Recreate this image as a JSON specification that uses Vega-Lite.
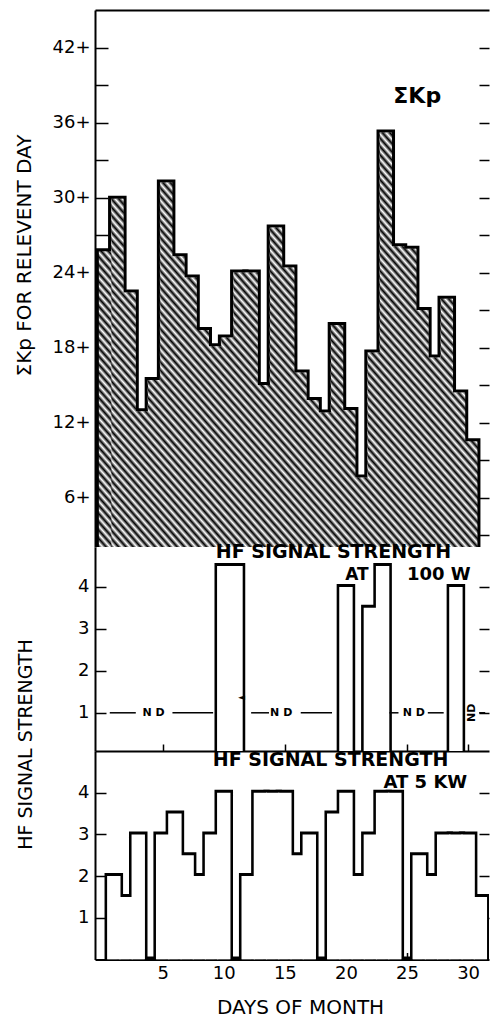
{
  "$schema": "https://vega.github.io/schema/vega-lite/v6.json",
  "background": "white",
  "autosize": {"type": "pad"},
  "padding": {"left": 14, "top": 10, "right": 0, "bottom": 0},
  "spacing": 0,
  "bounds": "flush",
  "config": {
    "view": {"stroke": null},
    "font": "DejaVu Sans",
    "axis": {"domainColor": "black", "tickColor": "black", "labelColor": "black", "titleColor": "black", "domainWidth": 2, "tickWidth": 1.5, "grid": false, "labelFont": "DejaVu Sans", "titleFont": "DejaVu Sans", "titleFontWeight": "normal"},
    "area": {"opacity": 1, "fill": {"gradient": "linear", "x1": 0, "y1": 1, "x2": 1, "y2": 0, "stops": [
      {"offset":0,"color":"#000"},{"offset":0.005,"color":"#fff"},{"offset":0.01,"color":"#000"},{"offset":0.015,"color":"#fff"},{"offset":0.02,"color":"#000"},{"offset":0.025,"color":"#fff"},{"offset":0.03,"color":"#000"},{"offset":0.035,"color":"#fff"},{"offset":0.04,"color":"#000"},{"offset":0.045,"color":"#fff"},
      {"offset":0.05,"color":"#000"},{"offset":0.055,"color":"#fff"},{"offset":0.06,"color":"#000"},{"offset":0.065,"color":"#fff"},{"offset":0.07,"color":"#000"},{"offset":0.075,"color":"#fff"},{"offset":0.08,"color":"#000"},{"offset":0.085,"color":"#fff"},{"offset":0.09,"color":"#000"},{"offset":0.095,"color":"#fff"},
      {"offset":0.1,"color":"#000"},{"offset":0.105,"color":"#fff"},{"offset":0.11,"color":"#000"},{"offset":0.115,"color":"#fff"},{"offset":0.12,"color":"#000"},{"offset":0.125,"color":"#fff"},{"offset":0.13,"color":"#000"},{"offset":0.135,"color":"#fff"},{"offset":0.14,"color":"#000"},{"offset":0.145,"color":"#fff"},
      {"offset":0.15,"color":"#000"},{"offset":0.155,"color":"#fff"},{"offset":0.16,"color":"#000"},{"offset":0.165,"color":"#fff"},{"offset":0.17,"color":"#000"},{"offset":0.175,"color":"#fff"},{"offset":0.18,"color":"#000"},{"offset":0.185,"color":"#fff"},{"offset":0.19,"color":"#000"},{"offset":0.195,"color":"#fff"},
      {"offset":0.2,"color":"#000"},{"offset":0.205,"color":"#fff"},{"offset":0.21,"color":"#000"},{"offset":0.215,"color":"#fff"},{"offset":0.22,"color":"#000"},{"offset":0.225,"color":"#fff"},{"offset":0.23,"color":"#000"},{"offset":0.235,"color":"#fff"},{"offset":0.24,"color":"#000"},{"offset":0.245,"color":"#fff"},
      {"offset":0.25,"color":"#000"},{"offset":0.255,"color":"#fff"},{"offset":0.26,"color":"#000"},{"offset":0.265,"color":"#fff"},{"offset":0.27,"color":"#000"},{"offset":0.275,"color":"#fff"},{"offset":0.28,"color":"#000"},{"offset":0.285,"color":"#fff"},{"offset":0.29,"color":"#000"},{"offset":0.295,"color":"#fff"},
      {"offset":0.3,"color":"#000"},{"offset":0.305,"color":"#fff"},{"offset":0.31,"color":"#000"},{"offset":0.315,"color":"#fff"},{"offset":0.32,"color":"#000"},{"offset":0.325,"color":"#fff"},{"offset":0.33,"color":"#000"},{"offset":0.335,"color":"#fff"},{"offset":0.34,"color":"#000"},{"offset":0.345,"color":"#fff"},
      {"offset":0.35,"color":"#000"},{"offset":0.355,"color":"#fff"},{"offset":0.36,"color":"#000"},{"offset":0.365,"color":"#fff"},{"offset":0.37,"color":"#000"},{"offset":0.375,"color":"#fff"},{"offset":0.38,"color":"#000"},{"offset":0.385,"color":"#fff"},{"offset":0.39,"color":"#000"},{"offset":0.395,"color":"#fff"},
      {"offset":0.4,"color":"#000"},{"offset":0.405,"color":"#fff"},{"offset":0.41,"color":"#000"},{"offset":0.415,"color":"#fff"},{"offset":0.42,"color":"#000"},{"offset":0.425,"color":"#fff"},{"offset":0.43,"color":"#000"},{"offset":0.435,"color":"#fff"},{"offset":0.44,"color":"#000"},{"offset":0.445,"color":"#fff"},
      {"offset":0.45,"color":"#000"},{"offset":0.455,"color":"#fff"},{"offset":0.46,"color":"#000"},{"offset":0.465,"color":"#fff"},{"offset":0.47,"color":"#000"},{"offset":0.475,"color":"#fff"},{"offset":0.48,"color":"#000"},{"offset":0.485,"color":"#fff"},{"offset":0.49,"color":"#000"},{"offset":0.495,"color":"#fff"},
      {"offset":0.5,"color":"#000"},{"offset":0.505,"color":"#fff"},{"offset":0.51,"color":"#000"},{"offset":0.515,"color":"#fff"},{"offset":0.52,"color":"#000"},{"offset":0.525,"color":"#fff"},{"offset":0.53,"color":"#000"},{"offset":0.535,"color":"#fff"},{"offset":0.54,"color":"#000"},{"offset":0.545,"color":"#fff"},
      {"offset":0.55,"color":"#000"},{"offset":0.555,"color":"#fff"},{"offset":0.56,"color":"#000"},{"offset":0.565,"color":"#fff"},{"offset":0.57,"color":"#000"},{"offset":0.575,"color":"#fff"},{"offset":0.58,"color":"#000"},{"offset":0.585,"color":"#fff"},{"offset":0.59,"color":"#000"},{"offset":0.595,"color":"#fff"},
      {"offset":0.6,"color":"#000"},{"offset":0.605,"color":"#fff"},{"offset":0.61,"color":"#000"},{"offset":0.615,"color":"#fff"},{"offset":0.62,"color":"#000"},{"offset":0.625,"color":"#fff"},{"offset":0.63,"color":"#000"},{"offset":0.635,"color":"#fff"},{"offset":0.64,"color":"#000"},{"offset":0.645,"color":"#fff"},
      {"offset":0.65,"color":"#000"},{"offset":0.655,"color":"#fff"},{"offset":0.66,"color":"#000"},{"offset":0.665,"color":"#fff"},{"offset":0.67,"color":"#000"},{"offset":0.675,"color":"#fff"},{"offset":0.68,"color":"#000"},{"offset":0.685,"color":"#fff"},{"offset":0.69,"color":"#000"},{"offset":0.695,"color":"#fff"},
      {"offset":0.7,"color":"#000"},{"offset":0.705,"color":"#fff"},{"offset":0.71,"color":"#000"},{"offset":0.715,"color":"#fff"},{"offset":0.72,"color":"#000"},{"offset":0.725,"color":"#fff"},{"offset":0.73,"color":"#000"},{"offset":0.735,"color":"#fff"},{"offset":0.74,"color":"#000"},{"offset":0.745,"color":"#fff"},
      {"offset":0.75,"color":"#000"},{"offset":0.755,"color":"#fff"},{"offset":0.76,"color":"#000"},{"offset":0.765,"color":"#fff"},{"offset":0.77,"color":"#000"},{"offset":0.775,"color":"#fff"},{"offset":0.78,"color":"#000"},{"offset":0.785,"color":"#fff"},{"offset":0.79,"color":"#000"},{"offset":0.795,"color":"#fff"},
      {"offset":0.8,"color":"#000"},{"offset":0.805,"color":"#fff"},{"offset":0.81,"color":"#000"},{"offset":0.815,"color":"#fff"},{"offset":0.82,"color":"#000"},{"offset":0.825,"color":"#fff"},{"offset":0.83,"color":"#000"},{"offset":0.835,"color":"#fff"},{"offset":0.84,"color":"#000"},{"offset":0.845,"color":"#fff"},
      {"offset":0.85,"color":"#000"},{"offset":0.855,"color":"#fff"},{"offset":0.86,"color":"#000"},{"offset":0.865,"color":"#fff"},{"offset":0.87,"color":"#000"},{"offset":0.875,"color":"#fff"},{"offset":0.88,"color":"#000"},{"offset":0.885,"color":"#fff"},{"offset":0.89,"color":"#000"},{"offset":0.895,"color":"#fff"},
      {"offset":0.9,"color":"#000"},{"offset":0.905,"color":"#fff"},{"offset":0.91,"color":"#000"},{"offset":0.915,"color":"#fff"},{"offset":0.92,"color":"#000"},{"offset":0.925,"color":"#fff"},{"offset":0.93,"color":"#000"},{"offset":0.935,"color":"#fff"},{"offset":0.94,"color":"#000"},{"offset":0.945,"color":"#fff"},
      {"offset":0.95,"color":"#000"},{"offset":0.955,"color":"#fff"},{"offset":0.96,"color":"#000"},{"offset":0.965,"color":"#fff"},{"offset":0.97,"color":"#000"},{"offset":0.975,"color":"#fff"},{"offset":0.98,"color":"#000"},{"offset":0.985,"color":"#fff"},{"offset":0.99,"color":"#000"},{"offset":0.995,"color":"#fff"},
      {"offset":1,"color":"#000"}
    ]}}
  },
  "datasets": {
    "kp": [{"day":1,"kp":25.7},{"day":2,"kp":29.9},{"day":3,"kp":22.4},{"day":4,"kp":12.9},{"day":5,"kp":15.4},{"day":6,"kp":31.2},{"day":7,"kp":25.3},{"day":8,"kp":23.6},{"day":9,"kp":19.4},{"day":10,"kp":18.1},{"day":11,"kp":18.8},{"day":12,"kp":24.0},{"day":13,"kp":24.0},{"day":14,"kp":15.0},{"day":15,"kp":27.6},{"day":16,"kp":24.4},{"day":17,"kp":16.0},{"day":18,"kp":13.8},{"day":19,"kp":12.8},{"day":20,"kp":19.8},{"day":21,"kp":13.0},{"day":22,"kp":7.6},{"day":23,"kp":17.6},{"day":24,"kp":35.2},{"day":25,"kp":26.1},{"day":26,"kp":25.9},{"day":27,"kp":21.0},{"day":28,"kp":17.2},{"day":29,"kp":21.9},{"day":30,"kp":14.4},{"day":31,"kp":10.5}],
    "w100": [{"day":10,"s":4.5},{"day":11,"s":4.5},{"day":20,"s":4},{"day":21,"s":0},{"day":22,"s":3.5},{"day":23,"s":4.5},{"day":29,"s":4}],
    "nd": [{"from":0.67,"to":2.8},{"from":5.8,"to":9.13},{"from":12.24,"to":13.7},{"from":16.3,"to":18.86},{"from":23.56,"to":24.3},{"from":26.7,"to":28.0},{"from":30.9,"to":31.4}],
    "ndlabels": [{"day":4.26,"label":"N D"},{"day":14.7,"label":"N D"},{"day":25.55,"label":"N D"}],
    "ndvert": [{"day":30.3,"label":"ND"}],
    "kw5": [{"day":1,"s":2},{"day":2,"s":1.5},{"day":3,"s":3},{"day":4,"s":0},{"day":5,"s":3},{"day":6,"s":3.5},{"day":7,"s":2.5},{"day":8,"s":2},{"day":9,"s":3},{"day":10,"s":4},{"day":11,"s":0},{"day":12,"s":2},{"day":13,"s":4},{"day":14,"s":4},{"day":15,"s":4},{"day":16,"s":2.5},{"day":17,"s":3},{"day":18,"s":0},{"day":19,"s":3.5},{"day":20,"s":4},{"day":21,"s":2},{"day":22,"s":3},{"day":23,"s":4},{"day":24,"s":4},{"day":25,"s":0},{"day":26,"s":2.5},{"day":27,"s":2},{"day":28,"s":3},{"day":29,"s":3},{"day":30,"s":3},{"day":31,"s":1.5}]
  },
  "vconcat": [
    {
      "width": 394,
      "height": 537,
      "resolve": {"axis": {"y": "independent", "x": "independent"}},
      "layer": [
        {
          "data": {"name": "kp"},
          "mark": {"type": "bar", "orient": "vertical", "width": 12.52, "fill": "black", "stroke": "black", "strokeWidth": 6, "clip": true},
          "encoding": {
            "x": {"field": "day", "type": "quantitative", "scale": {"domain": [0.58, 32.05], "nice": false, "zero": false},
                  "axis": {"orient": "top", "ticks": false, "labels": false, "title": null, "domain": true}},
            "y": {"field": "kp", "type": "quantitative", "scale": {"domain": [2.05, 45], "nice": false, "zero": false},
                  "axis": {"orient": "left", "values": [3,6,9,12,15,18,21,24,27,30,33,36,39,42], "tickSize": -13,
                           "labelExpr": "datum.value % 6 === 0 ? datum.label + '+' : ''", "labelFontSize": 18, "labelPadding": 18,
                           "title": "ΣKp FOR RELEVENT DAY", "titleFontSize": 20, "titleAngle": -90, "titleX": -71, "titleY": 245,
                           "titleAlign": "center", "titleBaseline": "middle"}}
          }
        },
        {
          "data": {"name": "kp"},
          "mark": {"type": "area", "orient": "vertical", "interpolate": "step-after", "xOffset": -6.26, "clip": true},
          "encoding": {
            "x": {"field": "day", "type": "quantitative", "axis": null},
            "y": {"field": "kp", "type": "quantitative",
                  "axis": {"orient": "right", "values": [3,6,9,12,15,18,21,24,27,30,33,36,39,42], "tickSize": -10, "labels": false, "domain": false, "title": null}},
            "y2": {"datum": 2.05}
          }
        },
        {
          "data": {"name": "kp"},
          "mark": {"type": "area", "orient": "vertical", "interpolate": "step-before", "xOffset": 6.26, "clip": true},
          "encoding": {
            "x": {"field": "day", "type": "quantitative", "axis": null},
            "y": {"field": "kp", "type": "quantitative", "axis": null},
            "y2": {"datum": 2.05}
          }
        },
        {
          "data": {"values": [{}]},
          "mark": {"type": "text", "text": "ΣKp", "fontSize": 22, "fontWeight": "bold", "align": "left", "baseline": "alphabetic", "color": "black"},
          "encoding": {
            "x": {"datum": 24.62, "type": "quantitative", "axis": null},
            "y": {"datum": 37.55, "type": "quantitative", "axis": null}
          }
        }
      ]
    },
    {
      "width": 394,
      "height": 204,
      "resolve": {"axis": {"y": "independent", "x": "independent"}},
      "layer": [
        {
          "data": {"name": "w100"},
          "mark": {"type": "bar", "orient": "vertical", "width": 12.54, "fill": "white", "stroke": "black", "strokeWidth": 6, "clip": true},
          "encoding": {
            "x": {"field": "day", "type": "quantitative", "scale": {"domain": [-0.13, 31.3], "nice": false, "zero": false},
                  "axis": {"orient": "bottom", "values": [5,10,15,20,25,30], "tickSize": -7, "labels": false, "title": null}},
            "y": {"field": "s", "type": "quantitative", "scale": {"domain": [0.09, 4.95], "nice": false, "zero": false},
                  "axis": {"orient": "left", "values": [1,2,3,4], "tickSize": -11, "labelFontSize": 18, "labelPadding": 17,
                           "title": "HF SIGNAL STRENGTH", "titleFontSize": 19, "titleAngle": -90, "titleX": -70, "titleY": 197,
                           "titleAlign": "center", "titleBaseline": "middle"}}
          }
        },
        {
          "data": {"name": "w100"},
          "mark": {"type": "bar", "orient": "vertical", "width": 13.4, "fill": "white", "strokeWidth": 0, "clip": true},
          "encoding": {
            "x": {"field": "day", "type": "quantitative", "axis": null},
            "y": {"field": "s", "type": "quantitative",
                  "axis": {"orient": "right", "values": [1,2,3,4], "tickSize": -10, "labels": false, "domain": false, "title": null}}
          }
        },
        {
          "data": {"name": "nd"},
          "mark": {"type": "rule", "stroke": "black", "strokeWidth": 1.5},
          "encoding": {
            "x": {"field": "from", "type": "quantitative", "axis": null},
            "x2": {"field": "to"},
            "y": {"datum": 1, "type": "quantitative", "axis": null}
          }
        },
        {
          "data": {"name": "ndlabels"},
          "mark": {"type": "text", "fontSize": 11, "fontWeight": "bold", "baseline": "middle", "align": "center", "color": "black"},
          "encoding": {
            "x": {"field": "day", "type": "quantitative", "axis": null},
            "y": {"datum": 1, "type": "quantitative", "axis": null},
            "text": {"field": "label"}
          }
        },
        {
          "data": {"name": "ndvert"},
          "mark": {"type": "text", "fontSize": 11, "fontWeight": "bold", "baseline": "middle", "align": "center", "angle": 270, "color": "black"},
          "encoding": {
            "x": {"field": "day", "type": "quantitative", "axis": null},
            "y": {"datum": 1, "type": "quantitative", "axis": null},
            "text": {"field": "label"}
          }
        },
        {
          "data": {"values": [{}]},
          "mark": {"type": "text", "text": "◄", "fontSize": 9, "align": "center", "baseline": "middle", "color": "black"},
          "encoding": {
            "x": {"datum": 11.44, "type": "quantitative", "axis": null},
            "y": {"datum": 1.37, "type": "quantitative", "axis": null}
          }
        },
        {
          "data": {"values": [{}]},
          "mark": {"type": "text", "text": "HF SIGNAL STRENGTH", "fontSize": 19, "fontWeight": "bold", "align": "center", "baseline": "alphabetic", "color": "black"},
          "encoding": {
            "x": {"datum": 18.98, "type": "quantitative", "axis": null},
            "y": {"datum": 4.68, "type": "quantitative", "axis": null}
          }
        },
        {
          "data": {"values": [{}]},
          "mark": {"type": "text", "text": "AT", "fontSize": 17, "fontWeight": "bold", "align": "center", "baseline": "alphabetic", "color": "black"},
          "encoding": {
            "x": {"datum": 20.9, "type": "quantitative", "axis": null},
            "y": {"datum": 4.17, "type": "quantitative", "axis": null}
          }
        },
        {
          "data": {"values": [{}]},
          "mark": {"type": "text", "text": "100 W", "fontSize": 18, "fontWeight": "bold", "align": "left", "baseline": "alphabetic", "color": "black"},
          "encoding": {
            "x": {"datum": 25.0, "type": "quantitative", "axis": null},
            "y": {"datum": 4.17, "type": "quantitative", "axis": null}
          }
        }
      ]
    },
    {
      "width": 394,
      "height": 208.5,
      "resolve": {"axis": {"y": "independent", "x": "independent"}},
      "layer": [
        {
          "data": {"name": "kw5"},
          "mark": {"type": "bar", "orient": "vertical", "width": 12.54, "fill": "white", "stroke": "black", "strokeWidth": 6, "clip": true},
          "encoding": {
            "x": {"field": "day", "type": "quantitative", "scale": {"domain": [-0.13, 31.3], "nice": false, "zero": false},
                  "axis": {"orient": "bottom", "values": [5,10,15,20,25,30], "tickSize": -7, "labelFontSize": 18, "labelPadding": 12,
                           "title": "DAYS OF MONTH", "titleFontSize": 20, "titleX": 205, "titleY": 53.5, "titleAlign": "center", "titleBaseline": "alphabetic"}},
            "y": {"field": "s", "type": "quantitative", "scale": {"domain": [0, 5], "nice": false, "zero": false},
                  "axis": {"orient": "left", "values": [1,2,3,4], "tickSize": -11, "labelFontSize": 18, "labelPadding": 17, "title": null}}
          }
        },
        {
          "data": {"name": "kw5"},
          "mark": {"type": "bar", "orient": "vertical", "width": 13.4, "fill": "white", "strokeWidth": 0, "clip": true},
          "encoding": {
            "x": {"field": "day", "type": "quantitative", "axis": null},
            "y": {"field": "s", "type": "quantitative",
                  "axis": {"orient": "right", "values": [1,2,3,4], "tickSize": -10, "labels": false, "domain": false, "title": null}}
          }
        },
        {
          "data": {"values": [{}]},
          "mark": {"type": "text", "text": "HF SIGNAL STRENGTH", "fontSize": 19, "fontWeight": "bold", "align": "center", "baseline": "alphabetic", "color": "black"},
          "encoding": {
            "x": {"datum": 18.74, "type": "quantitative", "axis": null},
            "y": {"datum": 4.64, "type": "quantitative", "axis": null}
          }
        },
        {
          "data": {"values": [{}]},
          "mark": {"type": "text", "text": "AT 5 KW", "fontSize": 18, "fontWeight": "bold", "align": "center", "baseline": "alphabetic", "color": "black"},
          "encoding": {
            "x": {"datum": 26.5, "type": "quantitative", "axis": null},
            "y": {"datum": 4.11, "type": "quantitative", "axis": null}
          }
        }
      ]
    }
  ]
}
